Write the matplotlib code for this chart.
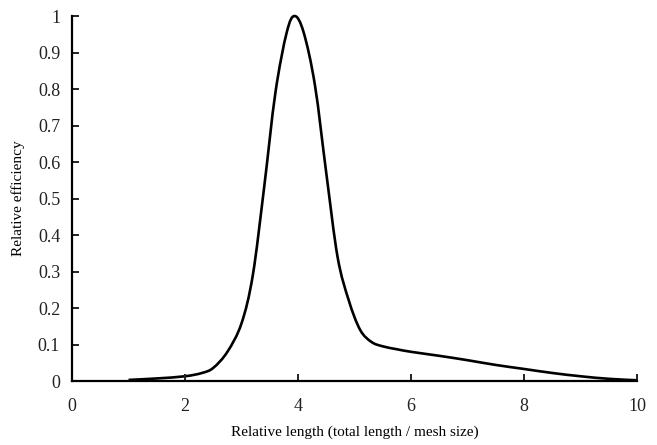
import matplotlib
matplotlib.use("Agg")
import matplotlib.pyplot as plt
from matplotlib.path import Path
from matplotlib.patches import PathPatch
from matplotlib.ticker import FormatStrFormatter

# valores
rel_length = [1.0, 1.5, 2.0, 2.3, 2.5, 2.75, 3.0, 3.2, 3.4, 3.6, 3.8, 3.94,
              4.1, 4.3, 4.5, 4.7, 4.9, 5.1, 5.3, 5.5, 5.75, 6.0, 6.5,
              7.0, 7.5, 8.0, 8.5, 9.0, 9.5, 10.0]
rel_eff = [0.003, 0.007, 0.013, 0.022, 0.036, 0.08, 0.158, 0.29, 0.53, 0.79, 0.955, 1.0,
           0.955, 0.81, 0.57, 0.34, 0.22, 0.14, 0.107, 0.095, 0.087, 0.08, 0.069,
           0.057, 0.044, 0.033, 0.022, 0.013, 0.006, 0.002]

plt.rcParams['font.family'] = ['Liberation Serif', 'DejaVu Serif']

fig = plt.figure(figsize=(6.57, 4.45), dpi=100)
ax = fig.add_axes([0.1096, 0.1438, 0.86, 0.8202])

# linea suavizada tipo Excel (Catmull-Rom -> Bezier)
pts = list(zip(rel_length, rel_eff))
verts = [pts[0]]
codes = [Path.MOVETO]
for i in range(len(pts) - 1):
    p0 = pts[i - 1] if i > 0 else pts[i]
    p1 = pts[i]
    p2 = pts[i + 1]
    p3 = pts[i + 2] if i + 2 < len(pts) else pts[i + 1]
    c1 = (p1[0] + (p2[0] - p0[0]) / 6, p1[1] + (p2[1] - p0[1]) / 6)
    c2 = (p2[0] - (p3[0] - p1[0]) / 6, p2[1] - (p3[1] - p1[1]) / 6)
    verts += [c1, c2, p2]
    codes += [Path.CURVE4] * 3
ax.add_patch(PathPatch(Path(verts, codes), facecolor='none', edgecolor='black', lw=1.9,
                       clip_on=False))

ax.set_xlim(0, 10)
ax.set_ylim(0, 1)
ax.set_xticks(range(0, 11, 2))
ax.set_yticks([i / 10 for i in range(11)])
ax.yaxis.set_major_formatter(FormatStrFormatter('%g'))

for s in ['top', 'right']:
    ax.spines[s].set_visible(False)
for s in ['left', 'bottom']:
    ax.spines[s].set_linewidth(1.6)

ax.tick_params(direction='in', length=5, width=1.4, labelsize=13, colors='#222222')
ax.tick_params(axis='y', pad=8.5)
ax.tick_params(axis='x', pad=12)

ax.set_xlabel("Relative length (total length / mesh size)", fontsize=11, labelpad=8)
ax.set_ylabel("Relative efficiency", fontsize=11, labelpad=9)

fig.savefig("out.png", dpi=100)
